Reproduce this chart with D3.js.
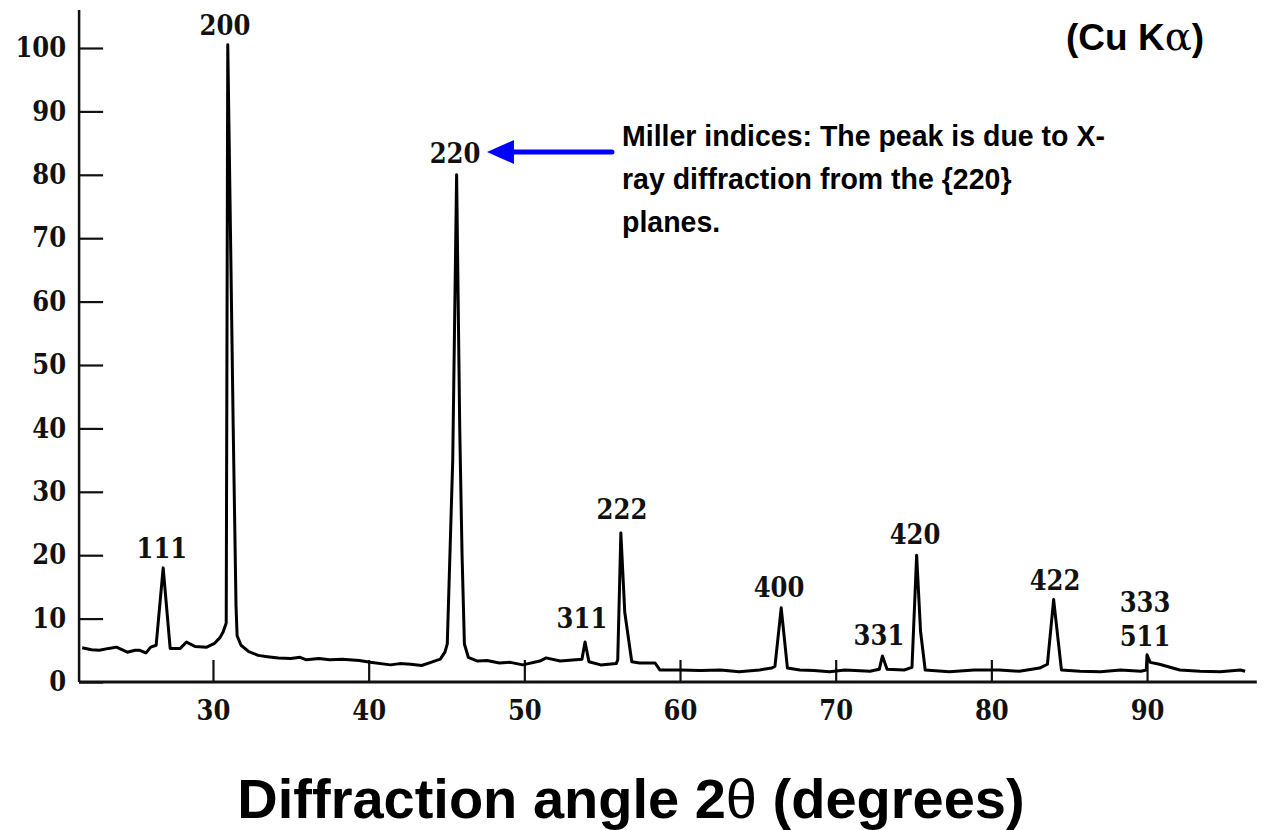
<!DOCTYPE html>
<html>
<head>
<meta charset="utf-8">
<script src="https://cdn.jsdelivr.net/npm/d3@7"></script>
<style>
  body { margin: 0; background: #fff; }
  svg { display: block; }
</style>
</head>
<body>
<div id="chart"></div>
<script>
// data: diffraction pattern
var twoTheta = [21.6, 22.2, 22.7, 23.3, 23.8, 24.5, 25.0, 25.3, 25.7, 26.0, 26.35, 26.8, 27.25, 27.9, 28.3, 28.85, 29.6, 30.1, 30.45, 30.65,
  30.85, 30.95, 31.1, 31.3, 31.48, 31.55, 31.8, 32.3, 32.9, 33.5, 34.2, 35.0, 35.6, 36.0, 36.8, 37.5, 38.3, 39.4, 40.1, 41.4, 42.0, 42.7, 43.4, 44.0, 44.6,
  44.9, 45.05, 45.4, 45.65, 45.85, 46.0, 46.15, 46.4, 47.0, 47.6, 48.4, 49.1, 49.9, 51.0, 51.4, 52.3, 53.3, 53.7, 53.9, 54.15, 54.9, 55.9,
  56.0, 56.2, 56.45, 56.9, 57.4, 58.4, 58.7, 60.0, 61.3, 62.6, 63.8, 65.1, 65.9, 66.1, 66.5, 66.9, 67.7, 68.6, 69.6, 70.6,
  72.2, 72.8, 73.0, 73.3, 74.4, 74.9, 75.2, 75.45, 75.75, 77.3, 78.9, 80.5, 81.8, 83.1, 83.6, 84.0, 84.5, 85.7, 87.0, 88.3,
  89.6, 89.95, 90.0, 90.2, 90.8, 92.1, 93.4, 94.7, 96.0, 96.3];
var intensity = [5.4, 5.1, 5.0, 5.3, 5.5, 4.7, 5.0, 5.0, 4.6, 5.5, 5.8, 18, 5.3, 5.3, 6.3, 5.6, 5.5, 6.1, 7.0, 7.9,
  9.3, 100.5, 75, 40, 12, 7.3, 5.8, 4.8, 4.2, 4.0, 3.8, 3.7, 3.9, 3.5, 3.7, 3.5, 3.6, 3.4, 3.1, 2.7, 2.9, 2.8, 2.6, 3.1, 3.6,
  4.7, 6, 35, 80, 40, 20, 6, 3.9, 3.3, 3.4, 3.0, 3.1, 2.7, 3.3, 3.8, 3.3, 3.5, 3.6, 6.3, 3.2, 2.7, 2.9,
  3.5, 23.5, 11, 3.2, 3.0, 3.0, 1.9, 1.9, 1.8, 1.9, 1.6, 1.9, 2.2, 2.5, 11.7, 2.2, 1.9, 1.8, 1.6, 1.9,
  1.7, 2.0, 4.1, 2.0, 1.9, 2.3, 20, 8, 1.9, 1.6, 1.9, 1.9, 1.7, 2.2, 2.8, 13, 1.9, 1.7, 1.6, 1.9,
  1.7, 1.9, 4.3, 3.1, 2.8, 1.9, 1.7, 1.6, 1.9, 1.7];

// peak labels (Miller indices)
var peakNames = ["111", "200", "220", "311", "222", "400", "331", "420", "422", "333", "511"];
var peakTheta = [26.72, 30.77, 45.55, 53.7, 56.27, 66.36, 72.78, 75.1, 84.09, 89.87, 89.87];
var peakLabelY = [19.6, 102.05, 81.9, 8.5, 25.7, 13.4, 5.8, 21.8, 14.5, 11.0, 5.7];

var xTicks = [30, 40, 50, 60, 70, 80, 90];
var yTicks = [0, 10, 20, 30, 40, 50, 60, 70, 80, 90, 100];

var width = 1270, height = 830;
var serif = "'DejaVu Serif Condensed', 'DejaVu Serif', serif";
var sans = "'Liberation Sans', Arial, sans-serif";

var svg = d3.select("#chart")
  .append("svg")
  .attr("width", width)
  .attr("height", height);

// scales (30 -> 213px, 90 -> 1147px ; 0 -> 682px, 100 -> 48px)
var x = d3.scaleLinear()
  .domain([21.4, 97.05])
  .range([79.1, 1256.8]);

var y = d3.scaleLinear()
  .domain([0, 100])
  .range([682, 48]);

var data = twoTheta.map((t, i) => ({t: t, v: intensity[i]}));

// axes
var yAxis = svg.append("g")
  .attr("transform", `translate(${x(21.4)},0)`)
  .call(d3.axisLeft(y).tickValues(yTicks).tickSize(-24).tickPadding(13));
yAxis.select(".domain").remove();

var xAxis = svg.append("g")
  .attr("transform", `translate(0,${y(0)})`)
  .call(d3.axisBottom(x).tickValues(xTicks).tickSize(-22).tickPadding(19));
xAxis.select(".domain").remove();

[yAxis, xAxis].forEach(g => {
  g.selectAll("line").attr("stroke", "#111").attr("stroke-width", 2.2);
  g.selectAll("text")
    .attr("fill", "#111")
    .style("font-family", serif)
    .style("font-weight", "bold")
    .style("font-size", "27px");
});

// axis lines
svg.append("line")
  .attr("x1", x(21.4)).attr("x2", x(21.4))
  .attr("y1", 10).attr("y2", y(0))
  .attr("stroke", "#111").attr("stroke-width", 2.5);

svg.append("line")
  .attr("x1", x(21.4)).attr("x2", x(97.05))
  .attr("y1", y(0)).attr("y2", y(0))
  .attr("stroke", "#111").attr("stroke-width", 3);

// pattern
var line = d3.line()
  .x(d => x(d.t))
  .y(d => y(d.v));

svg.append("path")
  .datum(data)
  .attr("d", line)
  .attr("fill", "none")
  .attr("stroke", "#000")
  .attr("stroke-width", 3)
  .attr("stroke-linejoin", "round");

// peak labels
svg.selectAll(".peak")
  .data(peakNames)
  .join("text")
  .attr("class", "peak")
  .attr("x", (d, i) => x(peakTheta[i]))
  .attr("y", (d, i) => y(peakLabelY[i]))
  .attr("text-anchor", "middle")
  .style("font-family", serif)
  .style("font-weight", "bold")
  .style("font-size", "27px")
  .attr("fill", "#111")
  .text(d => d);

// annotation arrow
var ay = y(83.6);
svg.append("line")
  .attr("x1", x(55.63)).attr("x2", x(48.9))
  .attr("y1", ay).attr("y2", ay)
  .attr("stroke", "#0000ff")
  .attr("stroke-width", 5)
  .attr("stroke-linecap", "round");

svg.append("path")
  .attr("d", `M${x(47.6)},${ay} L${x(47.6) + 27},${ay - 12} L${x(47.6) + 27},${ay + 12} Z`)
  .attr("fill", "#0000ff");

var note = ["Miller indices: The peak is due to X-", "ray diffraction from the {220}", "planes."];
svg.append("g")
  .attr("transform", "translate(622,0) scale(0.95,1)")
  .selectAll(".note")
  .data(note)
  .join("text")
  .attr("class", "note")
  .attr("x", 0)
  .attr("y", (d, i) => 146 + i * 43)
  .style("font-family", sans)
  .style("font-weight", "bold")
  .style("font-size", "30px")
  .attr("fill", "#000")
  .text(d => d);

var cu = svg.append("text")
  .attr("x", 1066)
  .attr("y", 50)
  .style("font-family", sans)
  .style("font-weight", "bold")
  .style("font-size", "37px");
cu.append("tspan").text("(Cu K");
cu.append("tspan").style("font-family", "'DejaVu Serif', serif").style("font-weight", "normal").style("font-size", "40px").text("\u03b1");
cu.append("tspan").text(")");

// x axis title
var title = svg.append("text")
  .attr("x", 631)
  .attr("y", 818)
  .attr("text-anchor", "middle")
  .style("font-family", sans)
  .style("font-weight", "bold")
  .style("font-size", "56px");
title.append("tspan").text("Diffraction angle 2");
title.append("tspan").style("font-weight", "normal").text("\u03b8");
title.append("tspan").text(" (degrees)");
</script>
</body>
</html>
